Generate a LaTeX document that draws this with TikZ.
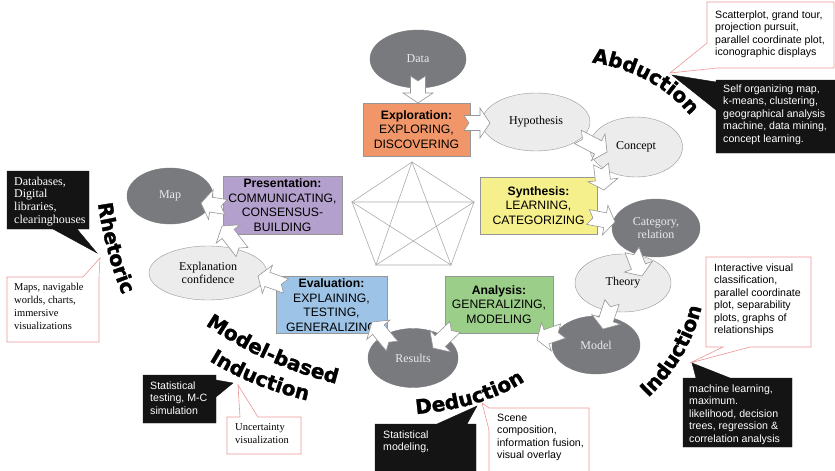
\documentclass[tikz,border=0pt]{standalone}
\usepackage{fontspec}
\setmainfont{Liberation Serif}
\setsansfont{Liberation Sans}
\newfontfamily\heavyfont{DejaVu Sans}[BoldFeatures={FakeBold=1.5}]
\usetikzlibrary{shapes,calc,decorations.text}
\definecolor{darkgrey}{RGB}{120,122,126}
\definecolor{lightgrey}{RGB}{236,236,236}
\definecolor{rimgrey}{RGB}{150,150,150}
\definecolor{callred}{RGB}{238,150,150}
\definecolor{explorecol}{RGB}{241,150,104}
\definecolor{presentcol}{RGB}{180,160,204}
\definecolor{synthcol}{RGB}{246,240,140}
\definecolor{evalcol}{RGB}{157,195,230}
\definecolor{analyscol}{RGB}{155,207,137}
\tikzstyle{darkell}=[ellipse,fill=darkgrey,draw=darkgrey,text=black!8,align=center,inner sep=0pt,font=\fontsize{12}{13.5}\selectfont]
\tikzstyle{lightell}=[ellipse,fill=lightgrey,draw=rimgrey,align=center,inner sep=0pt,font=\fontsize{12}{13.5}\selectfont]
\tikzstyle{stagebox}=[rectangle,draw=rimgrey,align=center,inner sep=0pt,font=\sffamily\fontsize{12.2}{14.6}\selectfont]
\tikzstyle{flow}=[fill=white,draw=rimgrey,line width=0.6pt,line join=miter]
\tikzstyle{starline}=[draw=rimgrey!80,line width=0.6pt]
\tikzstyle{blackcall}=[fill=black!92,draw=black!92]
\tikzstyle{redcall}=[fill=white,draw=callred,line width=0.6pt]
\tikzstyle{calltext}=[anchor=north west,align=left,inner sep=0pt,font=\sffamily\fontsize{10.6}{12.5}\selectfont]
\tikzstyle{serifcall}=[anchor=north west,align=left,inner sep=0pt,font=\fontsize{10.5}{12.7}\selectfont]
\tikzset{bent/.style={decorate,decoration={text along path,text align=center,text={|\heavyfont\bfseries\fontsize{20}{20}\selectfont|#1}}}}

% block arrow with notched tail, from #1 to #2
\newcommand{\flowarrow}[2]{%
  \path let \p1=(#1), \p2=(#2) in
    \pgfextra{%
      \pgfmathsetmacro{\arrang}{atan2(\y2-\y1,\x2-\x1)}%
      \pgfmathsetmacro{\arrlen}{veclen(\x2-\x1,\y2-\y1)}%
      \xdef\arrang{\arrang}\xdef\arrlen{\arrlen}%
      \xdef\arrx{\x1}\xdef\arry{\y1}};
  \draw[flow,shift={(\arrx,\arry)},rotate=\arrang]
    (0,-7.5) -- (\arrlen-10,-7.5) -- (\arrlen-10,-15) -- (\arrlen,0)
    -- (\arrlen-10,15) -- (\arrlen-10,7.5) -- (0,7.5) -- (5,0) -- cycle;
}

\begin{document}
\begin{tikzpicture}[x=1pt,y=-1pt]
    \useasboundingbox (0,0) rectangle (835,471);

    % pentagon with all its diagonals
    \coordinate (p1) at (412,162);
    \coordinate (p2) at (474,202);
    \coordinate (p3) at (451,265);
    \coordinate (p4) at (376,265);
    \coordinate (p5) at (352,202);
    \path[starline] (p1) -- (p2) -- (p3) -- (p4) -- (p5) -- cycle;
    \path[starline] (p1) -- (p3) -- (p5) -- (p2) -- (p4) -- cycle;

    % ellipses
    \foreach \pos/\name/\w/\h/\txt in {{(418,59)/data/96/58/Data}, {(656,228)/category/88/58/{Category,\\relation}},
            {(596,345)/model/88/58/Model}, {(413,358)/results/90/59/Results}, {(170,196)/map/86/56/Map}}
        \node[darkell,minimum width=\w pt,minimum height=\h pt] (\name) at \pos {\txt};

    \foreach \pos/\name/\w/\h/\txt in {{(536,122)/hypothesis/108/58/Hypothesis}, {(636,147)/concept/93/60/Concept},
            {(623,283)/theory/96/58/Theory}, {(208,273)/explanation/118/54/{Explanation\\confidence}}}
        \node[lightell,minimum width=\w pt,minimum height=\h pt] (\name) at \pos {\txt};

    % stage boxes
    \foreach \pos/\name/\w/\h/\col/\head/\body in {
            {(416.5,129.5)/explore/107/53/explorecol/Exploration:/{EXPLORING,\\DISCOVERING}},
            {(282.5,205)/present/119/58/presentcol/Presentation:/{COMMUNICATING,\\CONSENSUS-\\BUILDING}},
            {(538.5,205.5)/synth/117/57/synthcol/Synthesis:/{LEARNING,\\CATEGORIZING}},
            {(331.5,305)/evalu/111/57/evalcol/Evaluation:/{EXPLAINING,\\TESTING,\\GENERALIZING}},
            {(499,304.5)/analys/108/57/analyscol/Analysis:/{GENERALIZING,\\MODELING}}}
        \node[stagebox,fill=\col,minimum width=\w pt,minimum height=\h pt] (\name) at \pos {\textbf{\head}\\\body};

    % flow arrows
    \flowarrow{418,76}{418,103}
    \flowarrow{464,123}{490,123}
    \flowarrow{578,137}{607,152}
    \flowarrow{601,164}{604,190}
    \flowarrow{588,217}{615,222}
    \flowarrow{632,250}{642,276}
    \flowarrow{612,302}{603,329}
    \flowarrow{563,331}{537,340}
    \flowarrow{455,327}{433,348}
    \flowarrow{392,346}{372,322}
    \flowarrow{286,286}{258,276}
    \flowarrow{242,252}{222,226}
    \flowarrow{226,207}{201,203}

    % callouts
    \coordinate (abtip) at (670,73);
    \coordinate (abtipb) at (672,75);
    \draw[redcall] (707,2) -- (834,2) -- (834,68) -- (717,68) -- (abtip) -- (707,43) -- cycle;
    \node[calltext] (scatter) at (715,10.5) {Scatterplot, grand tour,\\projection pursuit,\\parallel coordinate plot,\\iconographic displays};
    \draw[blackcall] (716,80) -- (840,80) -- (840,153) -- (716,153) -- (716,110) -- (abtipb) -- (716,82) -- cycle;
    \node[calltext,text=white] (selforg) at (723,84.5) {Self organizing map,\\k-means, clustering,\\geographical analysis\\machine, data mining,\\concept learning.};

    \coordinate (rhtipb) at (97,253);
    \coordinate (rhtip) at (100,258);
    \draw[blackcall] (7,171) -- (89,171) -- (89,229) -- (77,229) -- (rhtipb) -- (53,229) -- (7,229) -- cycle;
    \node[serifcall,text=white,font=\fontsize{12}{12.7}\selectfont] (databases) at (14,176.5) {Databases,\\Digital\\libraries,\\clearinghouses};
    \draw[redcall] (7,277) -- (83,277) -- (rhtip) -- (99,277) -- (99,342) -- (7,342) -- cycle;
    \node[serifcall] (maps) at (14,283.5) {Maps, navigable\\worlds, charts,\\immersive\\visualizations};

    \coordinate (intip) at (690,363);
    \coordinate (intipb) at (692,363);
    \draw[redcall] (706,257) -- (811,257) -- (811,347) -- (750,347) -- (intip) -- (723,347) -- (706,347) -- cycle;
    \node[calltext] (interactive) at (714,263.5) {Interactive visual\\classification,\\parallel coordinate\\plot, separability\\plots, graphs of\\relationships};
    \draw[blackcall] (683,378) -- (696,378) -- (intipb) -- (730,378) -- (792,378) -- (792,447) -- (683,447) -- cycle;
    \node[calltext,text=white] (machine) at (689,384.5) {machine learning,\\maximum.\\likelihood, decision\\trees, regression \&\\correlation analysis};

    \coordinate (mbtipb) at (233,383);
    \coordinate (mbtip) at (238,385);
    \draw[blackcall] (143,375) -- (216,375) -- (216,380) -- (mbtipb) -- (216,397) -- (216,423) -- (143,423) -- cycle;
    \node[calltext,text=white] (stattest) at (150,381.5) {Statistical\\testing, M-C\\simulation};
    \draw[redcall] (227,417) -- (240,417) -- (mbtip) -- (258,417) -- (301,417) -- (301,454) -- (227,454) -- cycle;
    \node[serifcall,font=\fontsize{10.5}{13}\selectfont] (uncert) at (235,423.5) {Uncertainty\\visualization};

    \coordinate (detipb) at (477,406);
    \coordinate (detip) at (482,403);
    \draw[blackcall] (375,424) -- (437,424) -- (detipb) -- (467,424) -- (476,424) -- (476,480) -- (375,480) -- cycle;
    \node[calltext,text=white] (statmod) at (383,430.5) {Statistical\\modeling,};
    \draw[redcall] (489,408) -- (589,408) -- (589,480) -- (489,480) -- (489,430) -- (detip) -- cycle;
    \node[calltext] (scene) at (497,413.5) {Scene\\composition,\\information fusion,\\visual overlay};

    % bent labels
    \path[bent=Abduction] (574,61) .. controls (625,63) and (672,86) .. (701,130);
    \path[bent=Rhetoric] (97,196) .. controls (101,230) and (111,272) .. (126,302);
    \path[bent=Model-based] (198,320) .. controls (250,356) and (292,373) .. (345,386);
    \path[bent=Induction] (200,355) .. controls (235,378) and (272,393) .. (318,403);
    \path[bent=Deduction] (404,415) .. controls (450,412) and (497,403) .. (535,374);
    \path[bent=Induction] (639,406) .. controls (668,382) and (696,345) .. (704,295);

\end{tikzpicture}
\end{document}
